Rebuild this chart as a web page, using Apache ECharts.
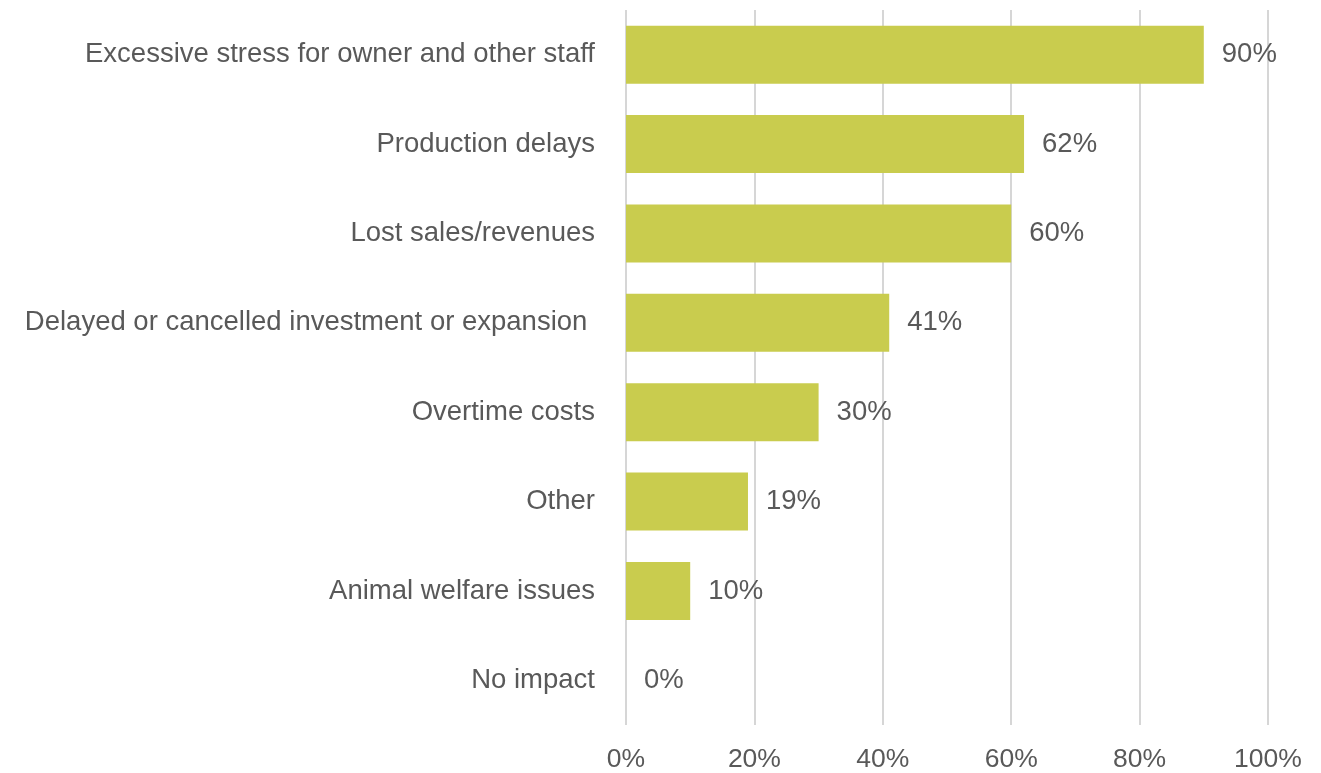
<!DOCTYPE html>
<html>
<head>
<meta charset="utf-8">
<script src="https://cdn.jsdelivr.net/npm/echarts@6/dist/echarts.min.js"></script>
<style>
  html, body { margin: 0; padding: 0; background: #ffffff; }
  #chart { width: 1321px; height: 773px; }
</style>
</head>
<body>
<div id="chart"></div>
<script>
// Impacts, listed top to bottom
const categories = [
  'Excessive stress for owner and other staff',
  'Production delays',
  'Lost sales/revenues',
  'Delayed or cancelled investment or expansion ',
  'Overtime costs',
  'Other',
  'Animal welfare issues',
  'No impact'
];
// Share of respondents (%)
const shares = [90, 62, 60, 41, 30, 19, 10, 0];
// Horizontal axis ticks (%)
const tickValues = [0, 20, 40, 60, 80, 100];

const textColor = '#595959';
const fontFamily = 'Liberation Sans, Arial, sans-serif';

const chart = echarts.init(document.getElementById('chart'), null, { renderer: 'canvas' });

chart.setOption({
  backgroundColor: '#ffffff',
  animation: false,
  grid: { left: 626, right: 53, top: 10, bottom: 48, containLabel: false },
  xAxis: {
    type: 'value',
    min: tickValues[0],
    max: tickValues[tickValues.length - 1],
    interval: 20,
    axisLine: { show: false },
    axisTick: { show: false },
    splitLine: { show: true, lineStyle: { color: '#d6d6d6', width: 2 } },
    axisLabel: {
      color: textColor,
      fontFamily: fontFamily,
      fontSize: 26.5,
      margin: 21,
      formatter: v => v + '%'
    }
  },
  yAxis: {
    type: 'category',
    inverse: true,
    data: categories,
    axisLine: { show: false },
    axisTick: { show: false },
    splitLine: { show: false },
    axisLabel: {
      color: textColor,
      fontFamily: fontFamily,
      fontSize: 27.5,
      margin: 31,
      padding: [4, 0, 0, 0]
    }
  },
  series: [{
    type: 'bar',
    data: shares,
    barWidth: '65%',
    itemStyle: { color: '#c9cc4e' },
    label: {
      show: true,
      position: 'right',
      distance: 18,
      color: textColor,
      fontFamily: fontFamily,
      fontSize: 27.5,
      padding: [4, 0, 0, 0],
      formatter: p => p.value + '%'
    }
  }]
});
</script>
</body>
</html>
